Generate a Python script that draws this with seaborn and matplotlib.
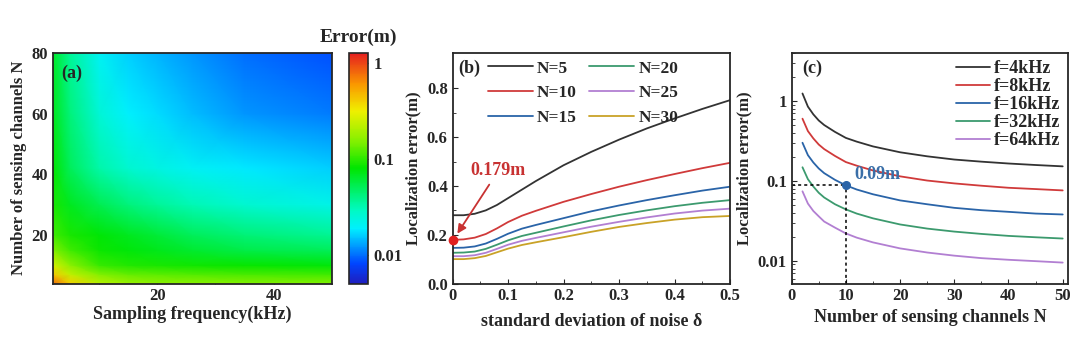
import numpy as np
import pandas as pd
import seaborn as sns
import matplotlib.pyplot as plt
from matplotlib.colors import LinearSegmentedColormap, LogNorm
from matplotlib.ticker import MultipleLocator, FixedLocator, NullFormatter, LogLocator

# ---- panel (a): error map ----
freq_a = [2, 5, 10, 15, 20, 26, 35, 50]
chan_a = [4, 7, 10, 15, 20, 30, 42, 60, 80]
err_a = [
    [0.80, 0.40, 0.22, 0.18, 0.165, 0.160, 0.155, 0.150],
    [0.42, 0.23, 0.15, 0.13, 0.125, 0.120, 0.115, 0.110],
    [0.26, 0.16, 0.105, 0.095, 0.090, 0.087, 0.082, 0.076],
    [0.15, 0.11, 0.085, 0.075, 0.070, 0.062, 0.055, 0.050],
    [0.11, 0.09, 0.078, 0.068, 0.060, 0.050, 0.043, 0.037],
    [0.09, 0.068, 0.052, 0.042, 0.036, 0.031, 0.026, 0.022],
    [0.08, 0.050, 0.033, 0.026, 0.023, 0.020, 0.018, 0.016],
    [0.07, 0.042, 0.025, 0.019, 0.017, 0.0145, 0.012, 0.0105],
    [0.065, 0.036, 0.020, 0.016, 0.014, 0.012, 0.0098, 0.0085],
]

# ---- panel (b): error vs noise std ----
noise_b = [0, 0.02, 0.04, 0.06, 0.08, 0.1, 0.125, 0.15, 0.2, 0.25, 0.3, 0.35, 0.4, 0.45, 0.5]
labels_b = ["N=5", "N=10", "N=15", "N=20", "N=25", "N=30"]
err_b = {
    "N=5":  [0.280, 0.280, 0.286, 0.300, 0.322, 0.350, 0.385, 0.420, 0.485, 0.540, 0.590, 0.636, 0.677, 0.716, 0.752],
    "N=10": [0.179, 0.181, 0.188, 0.203, 0.226, 0.252, 0.278, 0.298, 0.335, 0.367, 0.397, 0.424, 0.449, 0.473, 0.495],
    "N=15": [0.146, 0.147, 0.152, 0.164, 0.183, 0.204, 0.225, 0.240, 0.268, 0.296, 0.320, 0.342, 0.362, 0.381, 0.397],
    "N=20": [0.126, 0.127, 0.131, 0.142, 0.159, 0.177, 0.195, 0.208, 0.234, 0.259, 0.281, 0.300, 0.317, 0.331, 0.342],
    "N=25": [0.112, 0.112, 0.116, 0.126, 0.142, 0.159, 0.175, 0.187, 0.210, 0.233, 0.253, 0.271, 0.287, 0.299, 0.307],
    "N=30": [0.100, 0.100, 0.104, 0.113, 0.128, 0.143, 0.158, 0.169, 0.190, 0.212, 0.232, 0.248, 0.262, 0.272, 0.277],
}
colors_b = ["#333333", "#d03a3a", "#2a64a8", "#3c9a6e", "#b27fd2", "#c9a227"]

# ---- panel (c): error vs number of channels ----
chan_c = [2, 3, 4, 5, 6, 8, 10, 12, 15, 20, 25, 30, 35, 40, 45, 50]
labels_c = ["f=4kHz", "f=8kHz", "f=16kHz", "f=32kHz", "f=64kHz"]
err_c = {
    "f=4kHz":  [1.24, 0.85, 0.68, 0.57, 0.50, 0.41, 0.345, 0.31, 0.27, 0.228, 0.203, 0.185, 0.174, 0.165, 0.158, 0.152],
    "f=8kHz":  [0.60, 0.42, 0.34, 0.285, 0.25, 0.205, 0.172, 0.155, 0.135, 0.114, 0.101, 0.093, 0.087, 0.082, 0.079, 0.076],
    "f=16kHz": [0.30, 0.21, 0.17, 0.143, 0.125, 0.103, 0.088, 0.078, 0.068, 0.057, 0.051, 0.046, 0.043, 0.041, 0.039, 0.038],
    "f=32kHz": [0.148, 0.105, 0.085, 0.071, 0.062, 0.051, 0.044, 0.039, 0.034, 0.0285, 0.0253, 0.0232, 0.0217, 0.0205, 0.0197, 0.019],
    "f=64kHz": [0.074, 0.052, 0.042, 0.036, 0.031, 0.026, 0.022, 0.0195, 0.017, 0.0143, 0.0127, 0.0116, 0.0108, 0.0103, 0.0099, 0.0095],
}
colors_c = ["#333333", "#d03a3a", "#2a64a8", "#3c9a6e", "#b27fd2"]

sns.set_style("ticks")
plt.rcParams['font.family'] = ['Liberation Serif', 'DejaVu Serif']
plt.rcParams['font.weight'] = 'bold'
plt.rcParams['axes.labelweight'] = 'bold'
plt.rcParams['xtick.direction'] = 'in'
plt.rcParams['ytick.direction'] = 'in'
plt.rcParams['axes.linewidth'] = 1.3
plt.rcParams['xtick.labelsize'] = 12
plt.rcParams['ytick.labelsize'] = 12

XL = 13
YL = 12

fig = plt.figure(figsize=(10.8, 3.5), dpi=100)
ax_a = fig.add_axes([0.049, 0.19, 0.258, 0.659])
cax = fig.add_axes([0.323, 0.19, 0.018, 0.659])
ax_b = fig.add_axes([0.419, 0.19, 0.257, 0.659])
ax_c = fig.add_axes([0.733, 0.19, 0.256, 0.659])

# ---- (a) ----
cmap = LinearSegmentedColormap.from_list("origin_rainbow", [
    (0.0, (0.12, 0.12, 0.75)), (0.085, (0.0, 0.27, 1.0)), (0.237, (0.0, 0.94, 1.0)),
    (0.32, (0.0, 0.98, 0.75)), (0.5, (0.0, 0.9, 0.0)), (0.613, (0.5, 0.94, 0.0)),
    (0.748, (0.94, 0.94, 0.0)), (0.866, (0.98, 0.59, 0.0)), (1.0, (0.9, 0.12, 0.12))])
F, Nn = np.meshgrid(freq_a, chan_a)
mesh = ax_a.pcolormesh(F, Nn, np.array(err_a), shading="gouraud", cmap=cmap,
                       norm=LogNorm(vmin=0.005, vmax=1.28))
ax_a.set_xlim(2, 50)
ax_a.set_ylim(4, 80)
ax_a.xaxis.set_major_locator(FixedLocator([20, 40]))
ax_a.xaxis.set_minor_locator(FixedLocator([10, 30]))
ax_a.yaxis.set_major_locator(FixedLocator([20, 40, 60, 80]))
ax_a.yaxis.set_minor_locator(FixedLocator([10, 30, 50, 70]))
ax_a.set_xlabel("Sampling frequency(kHz)", labelpad=1, fontsize=XL)
ax_a.set_ylabel("Number of sensing channels N", labelpad=3, fontsize=YL)
ax_a.text(0.03, 0.95, "(a)", transform=ax_a.transAxes, fontsize=13, va="top")

cb = fig.colorbar(mesh, cax=cax)
cb.set_ticks([0.01, 0.1, 1])
cb.set_ticklabels(["0.01", "0.1", "1"])
cb.ax.yaxis.set_minor_locator(FixedLocator([]))
cb.ax.tick_params(direction="in", length=4)
cb.outline.set_linewidth(1.2)
cax.set_title("Error(m)", fontsize=14, fontweight="bold", pad=8)

# ---- (b) ----
df_b = pd.DataFrame([(x, v, lab) for lab in labels_b for x, v in zip(noise_b, err_b[lab])],
                    columns=["noise", "err", "N"])
sns.lineplot(data=df_b, x="noise", y="err", hue="N", hue_order=labels_b,
             palette=colors_b, linewidth=1.3, ax=ax_b, legend=False)
ax_b.set_xlim(0, 0.5)
ax_b.set_ylim(0, 0.946)
ax_b.set_xticks([0, 0.1, 0.2, 0.3, 0.4, 0.5])
ax_b.set_xticklabels(["0", "0.1", "0.2", "0.3", "0.4", "0.5"])
ax_b.xaxis.set_minor_locator(MultipleLocator(0.05))
ax_b.set_yticks([0, 0.2, 0.4, 0.6, 0.8])
ax_b.set_yticklabels(["0.0", "0.2", "0.4", "0.6", "0.8"])
ax_b.yaxis.set_minor_locator(FixedLocator([0.1, 0.3, 0.5, 0.7]))
ax_b.set_xlabel("standard deviation of noise δ", labelpad=6, fontsize=XL)
ax_b.set_ylabel("Localization error(m)", labelpad=4, fontsize=YL)
ax_b.text(0.02, 0.97, "(b)", transform=ax_b.transAxes, fontsize=13, va="top")
handles_b = [plt.Line2D([], [], color=c, lw=1.3) for c in colors_b]
ax_b.legend(handles_b, labels_b, ncol=2, loc="upper left", bbox_to_anchor=(0.07, 1.035),
            frameon=False, handlelength=2.6, handletextpad=0.25, columnspacing=0.7,
            labelspacing=0.5, prop={"size": 12.5, "weight": "bold"})
ax_b.plot([0], [0.179], "o", color="#e02020", ms=6, clip_on=False, zorder=5)
ax_b.annotate("0.179m", xy=(0.006, 0.195), xytext=(0.033, 0.445), color="#c83232",
              fontsize=13, fontweight="bold",
              arrowprops=dict(arrowstyle="-|>", color="#c83232", lw=1.3))

# ---- (c) ----
df_c = pd.DataFrame([(n, v, lab) for lab in labels_c for n, v in zip(chan_c, err_c[lab])],
                    columns=["N", "err", "f"])
sns.lineplot(data=df_c, x="N", y="err", hue="f", hue_order=labels_c,
             palette=colors_c, linewidth=1.3, ax=ax_c, legend=False)
ax_c.set_yscale("log")
ax_c.set_xlim(0, 51)
ax_c.set_ylim(0.0052, 4)
ax_c.xaxis.set_major_locator(MultipleLocator(10))
ax_c.xaxis.set_minor_locator(MultipleLocator(5))
ax_c.yaxis.set_major_locator(FixedLocator([0.01, 0.1, 1]))
ax_c.set_yticklabels(["0.01", "0.1", "1"])
ax_c.yaxis.set_minor_locator(LogLocator(base=10, subs=np.arange(2, 10)))
ax_c.yaxis.set_minor_formatter(NullFormatter())
ax_c.set_xlabel("Number of sensing channels N", labelpad=3, fontsize=XL)
ax_c.set_ylabel("Localization error(m)", labelpad=4, fontsize=YL)
ax_c.text(0.04, 0.97, "(c)", transform=ax_c.transAxes, fontsize=13, va="top")
handles_c = [plt.Line2D([], [], color=c, lw=1.3) for c in colors_c]
ax_c.legend(handles_c, labels_c, loc="upper right", bbox_to_anchor=(1.01, 1.015),
            frameon=False, handlelength=1.9, handletextpad=0.2, borderaxespad=0.2,
            labelspacing=0.05, prop={"size": 13, "weight": "bold"})
ax_c.plot([0, 10], [0.09, 0.09], color="black", lw=1.1, ls=(0, (2, 2)))
ax_c.plot([10, 10], [0.0052, 0.09], color="black", lw=1.1, ls=(0, (2, 2)))
ax_c.plot([10], [0.09], "o", color="#2a64a8", ms=5.5, zorder=5)
ax_c.text(11.5, 0.095, "0.09m", color="#3a6fa8", fontsize=13, fontweight="bold", va="bottom")

fig.savefig("out.png", dpi=100)
